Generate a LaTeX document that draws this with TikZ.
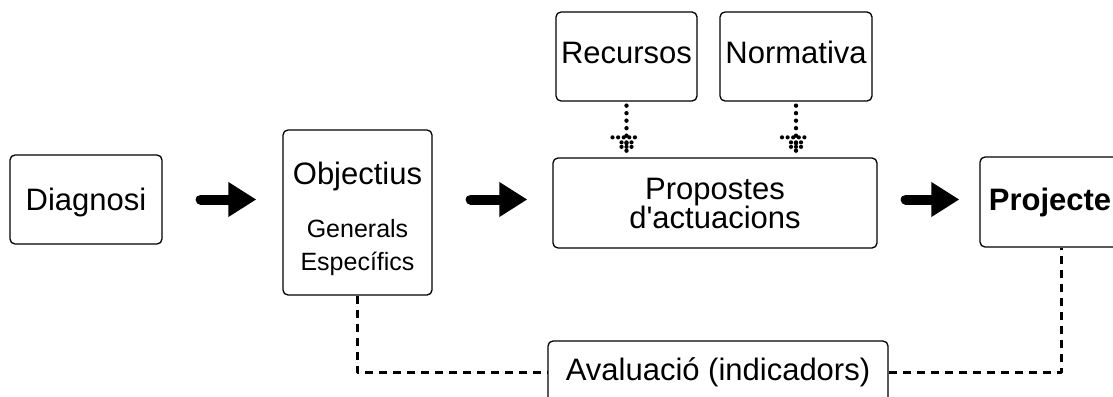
\documentclass[tikz,border=0pt]{standalone}
\usepackage{fontspec}
\setmainfont{Liberation Sans}[Ligatures=TeXOff]
\usetikzlibrary{arrows.meta}

\newcommand{\bigfs}{\fontsize{31}{33}\selectfont}
\newcommand{\smallfs}{\fontsize{25}{33}\selectfont}

\tikzset{
  box/.style={draw, line width=1.3pt, rounded corners=5pt, inner sep=0pt, font=\bigfs, align=center},
  oneline/.style={text height=22pt, text depth=6pt},
  bigarrow/.style={line width=10pt, line cap=round, -{Triangle[width=33pt,length=28pt]}},
  dotline/.style={line width=4.4pt, line cap=round, dash pattern=on 0pt off 7.5pt},
  dashline/.style={line width=3pt, dash pattern=on 8pt off 6pt}
}

\begin{document}
\begin{tikzpicture}[line join=round,x=1pt,y=-1pt]
\useasboundingbox (0,0) rectangle (1113,396);
\clip (0,0) rectangle (1113,396);
% boxes
\node[box, oneline, text depth=1pt, minimum width=152pt, minimum height=89pt] (diag) at (86,199.5) {Diagnosi};
\node[box, minimum width=149pt, minimum height=165pt] (obj) at (357.5,212.5)
  {\rule{0pt}{36pt}Objectius\\[20pt]{\smallfs Generals}\\{\smallfs Específics}};
\node[box, oneline, text depth=8pt, minimum width=141pt, minimum height=89pt] (rec) at (626.5,56.5) {Recursos};
\node[box, oneline, text depth=8pt, minimum width=152pt, minimum height=89pt] (norm) at (796,56.5) {Normativa};
\node[box, minimum width=324pt, minimum height=90pt] (prop) at (715,203) {Propostes\\[-4pt]d'actuacions};
\node[box, oneline, minimum width=140pt, minimum height=90pt, font=\bigfs\bfseries] (proj) at (1050,202) {Projecte};
\node[box, oneline, minimum width=340pt, minimum height=62pt] (aval) at (718,372) {Avaluació (indicadors)};
% main flow
\draw[bigarrow, shorten <=38pt, shorten >=26pt] (diag.east) -- (obj.west |- diag);
\draw[bigarrow, shorten <=38pt, shorten >=25pt] (obj.east |- diag) -- (prop.west |- diag);
\draw[bigarrow, shorten <=28pt, shorten >=20pt] (prop.east |- diag) -- (proj.west |- diag);
% inputs, dotted with dotted heads
\foreach \src in {rec,norm}{
  \draw[dotline] ([yshift=-4pt]\src.south) -- (prop.north -| \src.south);
  \foreach \dx in {-14,-8.4,...,14}
    \fill ([xshift=\dx pt,yshift=20pt]prop.north -| \src.south) circle (2.1pt);
  \foreach \dy in {15,10.5}
    \foreach \dx in {-5,0,5}
      \fill ([xshift=\dx pt,yshift=\dy pt]prop.north -| \src.south) circle (2.1pt);
}
% evaluation
\draw[dashline] (obj.south) |- (aval.west);
\draw[dashline] (aval.east) -| ([xshift=11pt]proj.south);
\end{tikzpicture}
\end{document}
